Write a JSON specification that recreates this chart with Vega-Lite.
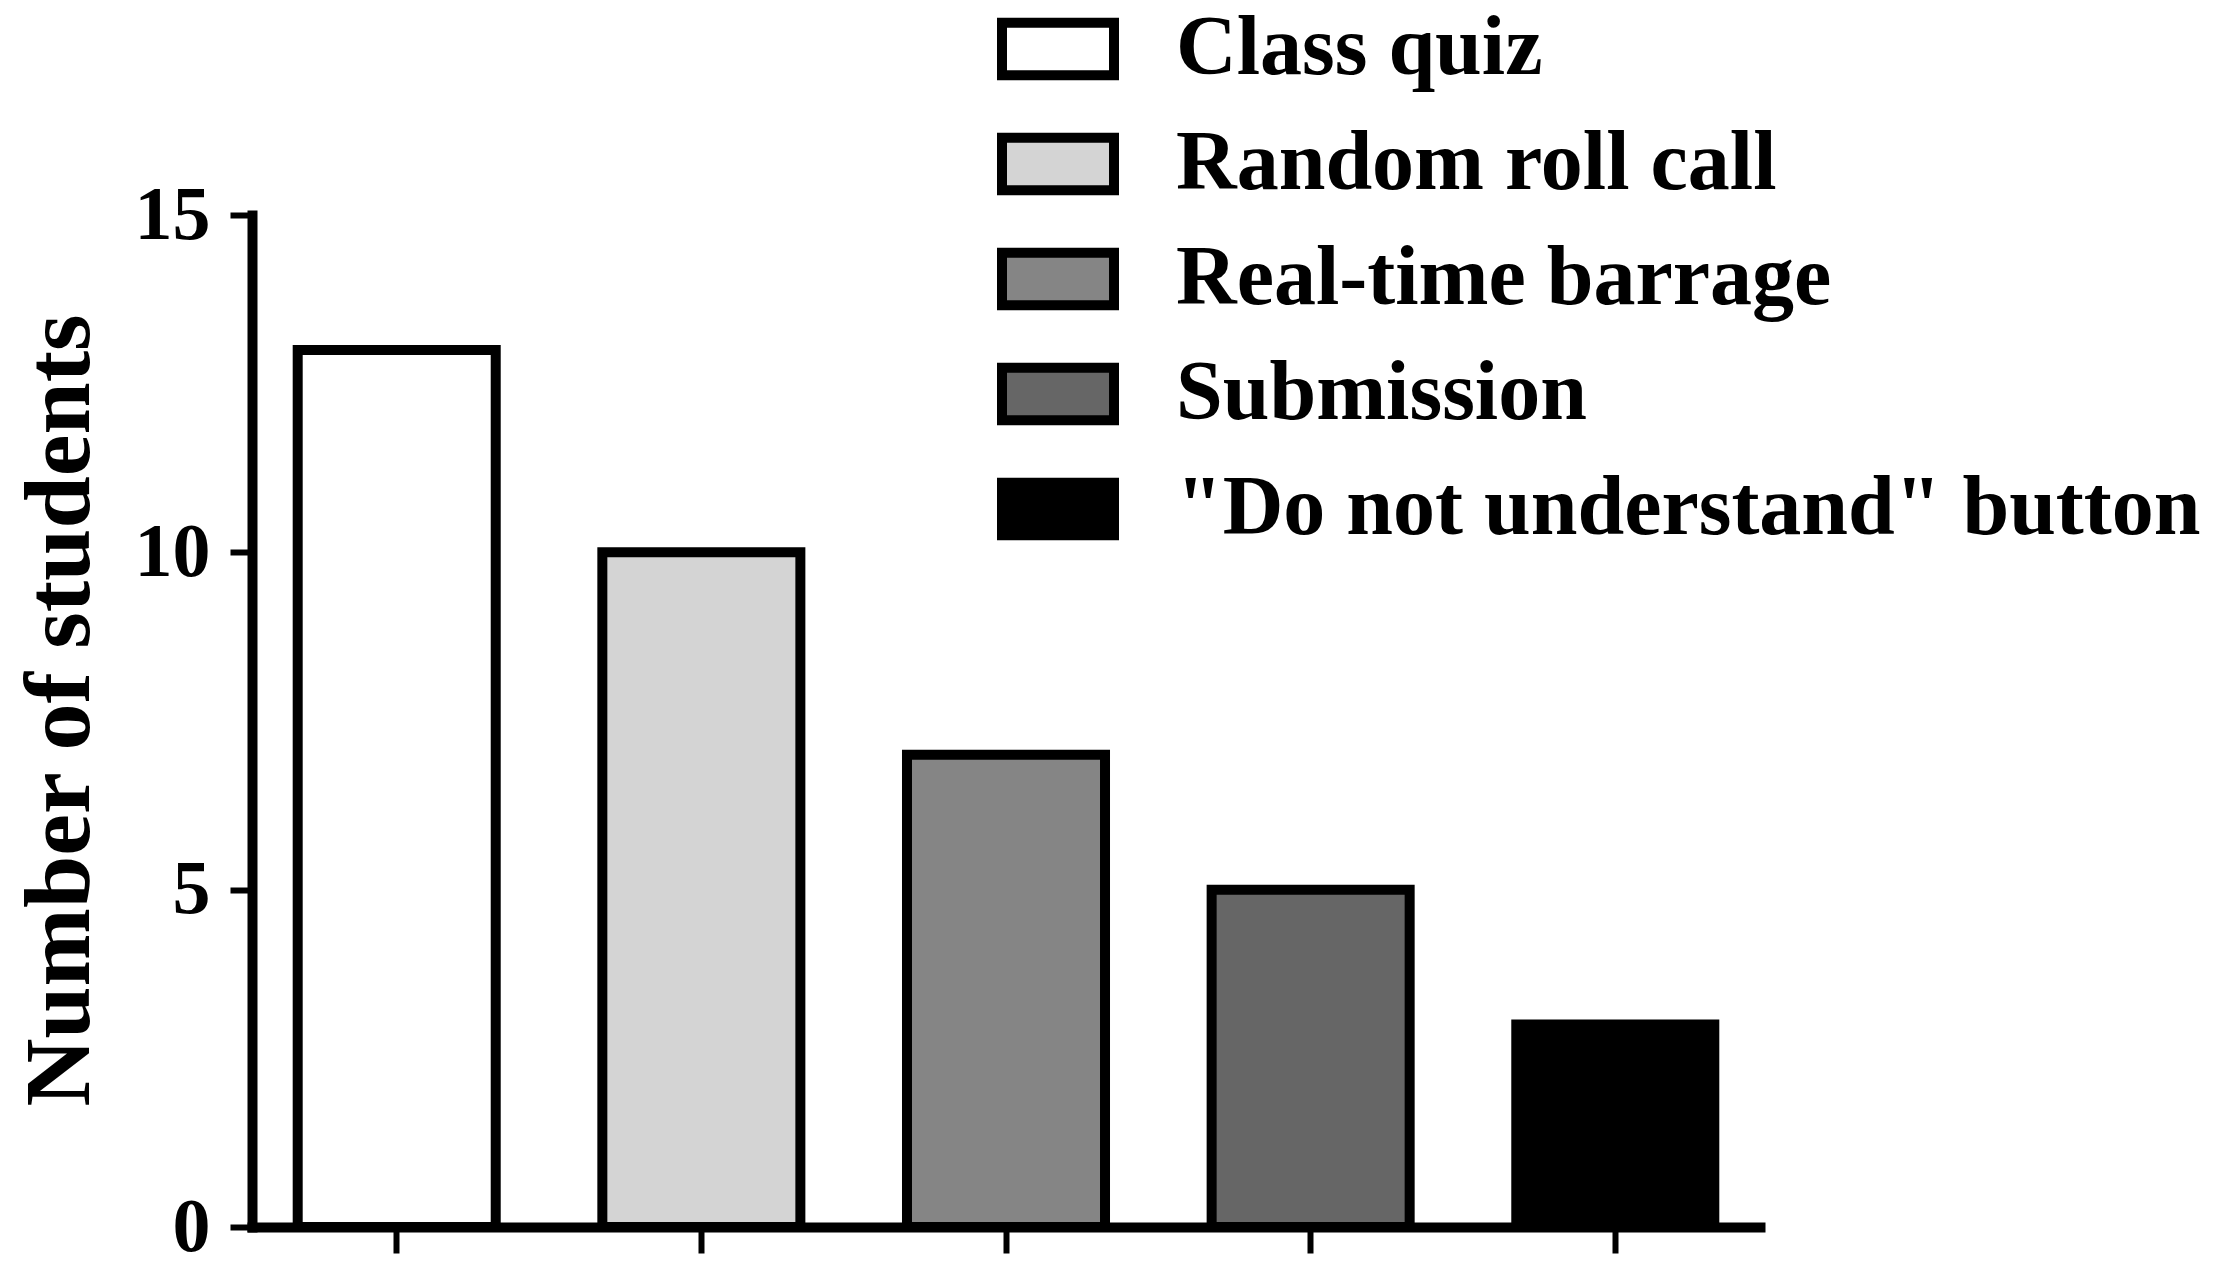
{
  "$schema": "https://vega.github.io/schema/vega-lite/v6.json",
  "width": 1508,
  "height": 1012,
  "autosize": "none",
  "padding": {"left": 252, "top": 215, "right": 457, "bottom": 45},
  "background": "white",
  "config": {"view": {"stroke": null}, "font": "Liberation Serif"},
  "data": {
    "values": [
      {"method": "Class quiz", "students": 13},
      {"method": "Random roll call", "students": 10},
      {"method": "Real-time barrage", "students": 7},
      {"method": "Submission", "students": 5},
      {"method": "\"Do not understand\" button", "students": 3}
    ]
  },
  "mark": {"type": "bar", "stroke": "black", "strokeWidth": 10, "strokeJoin": "miter"},
  "encoding": {
    "x": {
      "field": "method",
      "type": "nominal",
      "sort": null,
      "scale": {"paddingInner": 0.35, "paddingOuter": 0.15},
      "axis": {
        "title": null,
        "labels": false,
        "domainWidth": 10,
        "domainColor": "black",
        "domainCap": "square",
        "tickColor": "black",
        "tickWidth": 6,
        "tickSize": 26
      }
    },
    "y": {
      "field": "students",
      "type": "quantitative",
      "scale": {"domain": [0, 15]},
      "axis": {
        "title": "Number of students",
        "values": [0, 5, 10, 15],
        "grid": false,
        "domainWidth": 10,
        "domainColor": "black",
        "domainCap": "square",
        "tickColor": "black",
        "tickWidth": 6,
        "tickSize": 22,
        "labelFont": "Liberation Serif",
        "labelFontSize": 76,
        "labelFontWeight": "bold",
        "labelColor": "black",
        "labelPadding": 20,
        "titleFont": "Liberation Serif",
        "titleFontSize": 94,
        "titleFontWeight": "bold",
        "titleColor": "black",
        "titleAngle": -90,
        "titleAlign": "center",
        "titleBaseline": "alphabetic",
        "titleX": -164,
        "titleY": 495
      }
    },
    "fill": {
      "field": "method",
      "type": "nominal",
      "sort": null,
      "scale": {"range": ["#ffffff", "#d4d4d4", "#858585", "#666666", "#000000"]},
      "legend": {
        "title": null,
        "orient": "none",
        "legendX": 745,
        "legendY": -227,
        "padding": 0,
        "offset": 0,
        "symbolType": "M-1,-0.47H1V0.47H-1Z",
        "symbolSize": 12544,
        "symbolStrokeColor": "black",
        "symbolStrokeWidth": 10,
        "symbolOpacity": 1,
        "labelFont": "Liberation Serif",
        "labelFontSize": 84,
        "labelFontWeight": "bold",
        "labelColor": "black",
        "labelOffset": 57,
        "labelLimit": 0,
        "rowPadding": 7
      }
    }
  }
}
